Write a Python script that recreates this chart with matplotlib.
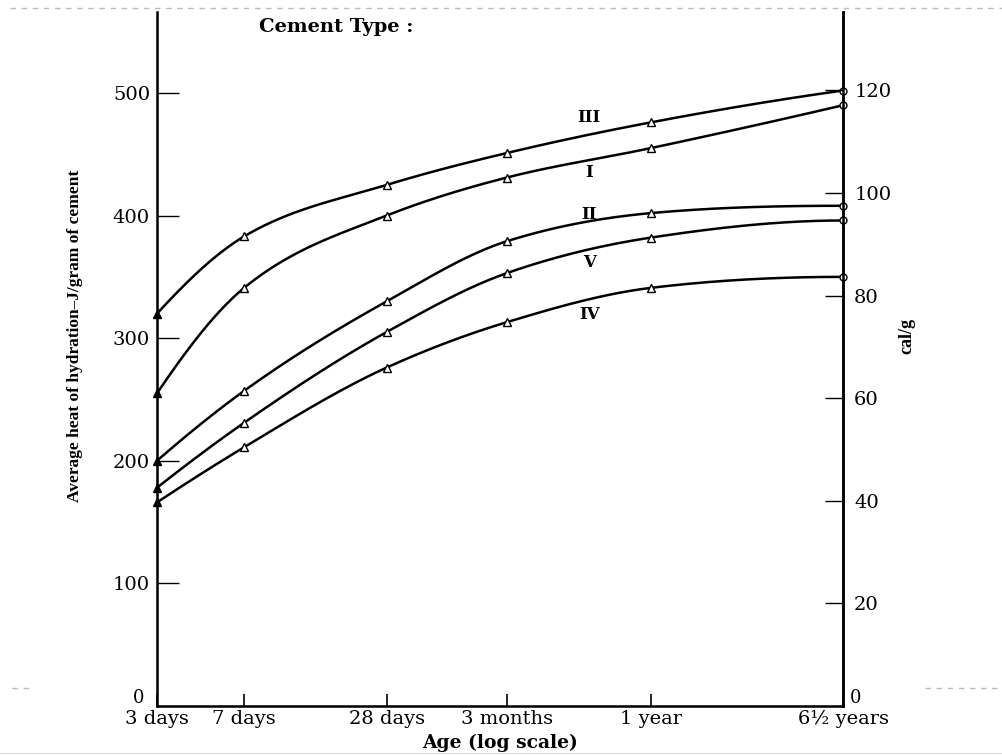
import matplotlib
matplotlib.use("Agg")
import matplotlib.pyplot as plt
import numpy as np
from matplotlib.lines import Line2D

plt.rcParams['font.family'] = ['DejaVu Serif']

# age in days (log scale) and tick labels
age_days = [3, 7, 28, 90, 365, 2372]
age_labels = ["3 days", "7 days", "28 days", "3 months", "1 year", "6\u00bd years"]

# heat of hydration, J/g
type_III = [320, 383, 425, 451, 476, 502]
type_I = [255, 341, 400, 431, 455, 490]
type_II = [200, 257, 330, 379, 402, 408]
type_V = [178, 231, 305, 353, 382, 396]
type_IV = [166, 211, 276, 313, 341, 350]

series_names = ["III", "I", "II", "V", "IV"]
series_vals = [type_III, type_I, type_II, type_V, type_IV]
label_x = 201
label_y = [480, 435, 401, 362, 319]

J_PER_CAL = 4.184
left_ticks = [100, 200, 300, 400, 500]
right_ticks = [20, 40, 60, 80, 100, 120]


def smooth(xs, ys, n=40):
    # Hermite curve through the read points, x = ln(days); interior slopes are
    # a blend of the pchip (harmonic) and three-point (arithmetic) estimates
    x = np.log(np.array(xs, float))
    y = np.array(ys, float)
    h = np.diff(x)
    d = np.diff(y) / h
    m = np.zeros_like(y)
    for k in range(1, len(y) - 1):
        w1 = 2 * h[k] + h[k - 1]
        w2 = h[k] + 2 * h[k - 1]
        harm = (w1 + w2) / (w1 / d[k - 1] + w2 / d[k]) if d[k - 1] * d[k] > 0 else 0.0
        arith = (d[k - 1] * h[k] + d[k] * h[k - 1]) / (h[k - 1] + h[k])
        m[k] = 0.6 * harm + 0.4 * arith

    def end_slope(h0, h1, d0, d1):
        s = ((2 * h0 + h1) * d0 - h0 * d1) / (h0 + h1)
        if np.sign(s) != np.sign(d0):
            return 0.0
        if np.sign(d0) != np.sign(d1) and abs(s) > 3 * abs(d0):
            return 3 * d0
        return s

    m[0] = end_slope(h[0], h[1], d[0], d[1])
    m[-1] = end_slope(h[-1], h[-2], d[-1], d[-2])
    outx, outy = [], []
    for k in range(len(h)):
        t = np.linspace(0, 1, n, endpoint=False)
        h00 = 2 * t ** 3 - 3 * t ** 2 + 1
        h10 = t ** 3 - 2 * t ** 2 + t
        h01 = -2 * t ** 3 + 3 * t ** 2
        h11 = t ** 3 - t ** 2
        outx.extend(x[k] + t * h[k])
        outy.extend(h00 * y[k] + h10 * h[k] * m[k] + h01 * y[k + 1] + h11 * h[k] * m[k + 1])
    outx.append(x[-1])
    outy.append(y[-1])
    return np.exp(outx), np.array(outy)


fig = plt.figure(figsize=(10.03, 7.55), dpi=100)
ax = fig.add_axes([0.1565, 0.065, 0.684, 0.919])
ax.set_xscale('log')
ax.set_xlim(3, 2372)
ax.set_ylim(0, 566)

for name, vals in zip(series_names, series_vals):
    sx, sy = smooth(age_days, vals)
    ax.plot(sx, sy, color='black', lw=1.8, zorder=3)
    ax.plot(age_days[1:-1], vals[1:-1], ls='none', marker='^', ms=6,
            mfc='white', mec='black', mew=1.0, zorder=4)
    ax.plot(age_days[-1:], vals[-1:], ls='none', marker='o', ms=5,
            mfc='white', mec='black', mew=1.0, zorder=4, clip_on=False)
    ax.plot(age_days[:1], vals[:1], ls='none', marker='^', ms=6,
            mfc='black', mec='black', zorder=4, clip_on=False)

for name, yp in zip(series_names, label_y):
    ax.text(label_x, yp, name, fontsize=12, fontweight='bold', ha='center', va='center')

ax.text(0.261, 0.978, "Cement Type :", transform=ax.transAxes, fontsize=14,
        fontweight='bold', ha='center', va='center')

ax.spines['top'].set_visible(False)
for s in ['left', 'right', 'bottom']:
    ax.spines[s].set_linewidth(1.8)

ax.set_xticks(age_days)
ax.set_xticklabels(age_labels, fontsize=14)
ax.xaxis.set_minor_locator(matplotlib.ticker.NullLocator())
ax.tick_params(axis='x', direction='in', length=9, width=1.2, pad=3)

ax.set_yticks(left_ticks)
ax.set_yticklabels([str(v) for v in left_ticks], fontsize=14)
ax.tick_params(axis='y', direction='in', length=16, width=1.0, pad=5)
ax.text(-0.018, 0.011, "0", transform=ax.transAxes, fontsize=13, ha='right', va='center')

ax.set_ylabel("Average heat of hydration\u2013J/gram of cement", fontsize=12.5,
              fontweight='bold', family='Liberation Serif')
ax.yaxis.set_label_coords(-0.108, 0.533)
ax.set_xlabel("Age (log scale)", fontsize=13.5, fontweight='bold', labelpad=4)

ax2 = ax.twinx()
ax2.set_ylim(0, 566 / J_PER_CAL)
ax2.set_yticks(right_ticks)
ax2.set_yticklabels([str(v) for v in right_ticks], fontsize=14)
ax2.tick_params(axis='y', direction='in', length=13, width=1.0, pad=8)
ax2.spines['top'].set_visible(False)
ax2.spines['right'].set_linewidth(1.8)
ax2.text(1.01, 0.011, "0", transform=ax2.transAxes, fontsize=13, ha='left', va='center')
ax2.set_ylabel("cal/g", fontsize=13, fontweight='bold', family='Liberation Serif')
ax2.yaxis.set_label_coords(1.08, 0.533)

# slide decoration lines
grey = '#bbbbbb'
fig.add_artist(Line2D([0.01, 1.0], [0.989, 0.989], color=grey, lw=1, ls=(0, (4, 4))))
fig.add_artist(Line2D([0.012, 0.032], [0.089, 0.089], color=grey, lw=1, ls=(0, (4, 4))))
fig.add_artist(Line2D([0.922, 1.0], [0.089, 0.089], color=grey, lw=1, ls=(0, (4, 4))))
fig.add_artist(Line2D([0.0, 1.0], [0.003, 0.003], color='#dddddd', lw=1))

fig.savefig("out.png", dpi=100)
